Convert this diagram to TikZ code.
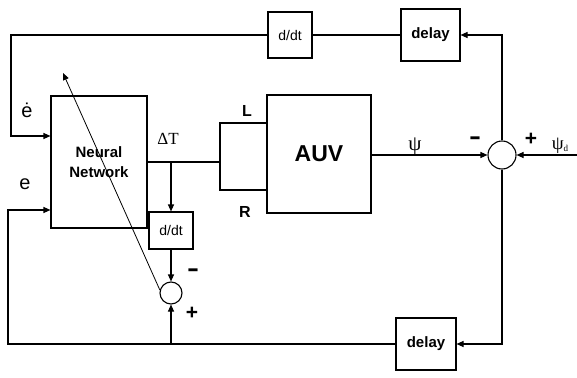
\documentclass[tikz,border=0pt]{standalone}
\usepackage{fontspec}
\setmainfont{Liberation Sans}
\newfontfamily\serifx{Liberation Serif}
\usetikzlibrary{arrows.meta}
\newcommand{\bigminus}{\scalebox{1.5}[1]{-}}
\begin{document}
\begin{tikzpicture}[x=1pt,y=-1pt,
  line width=1.1pt,
  blk/.style={draw,rectangle,inner sep=0pt},
  sumc/.style={draw,circle,inner sep=0pt},
  arr/.style={-{Triangle[length=7pt,width=6pt]}},
  sgn/.style={inner sep=0pt,font=\bfseries\fontsize{24}{26}\selectfont},
  lbl/.style={inner sep=0pt,font=\bfseries\fontsize{16}{18}\selectfont}]
\useasboundingbox (0,0) rectangle (577,377);
% blocks
\node[blk,minimum width=96pt,minimum height=132pt,align=center,
  font=\bfseries\fontsize{15}{20}\selectfont] (nn) at (99,162) {Neural\\Network};
\node[blk,minimum width=47pt,minimum height=67pt] (lr) at (243.5,156.5) {};
\node[blk,minimum width=104pt,minimum height=118pt,
  font=\bfseries\fontsize{23}{26}\selectfont] (auv) at (319,154) {AUV};
\node[blk,minimum width=44pt,minimum height=46pt,
  font=\fontsize{14}{16}\selectfont] (ddt1) at (290,35) {d/dt};
\node[blk,minimum width=59pt,minimum height=52pt,
  font=\bfseries\fontsize{15}{18}\selectfont] (del1) at (430.5,35) {delay};
\node[sumc,minimum size=28pt] (s1) at (502,155) {};
\node[blk,minimum width=44pt,minimum height=37pt,
  font=\fontsize{14}{16}\selectfont] (ddt2) at (171,230.5) {d/dt};
\node[sumc,minimum size=22pt] (s2) at (171,293) {};
\node[blk,minimum width=60pt,minimum height=52pt,
  font=\bfseries\fontsize{15}{18}\selectfont] (del2) at (426,344) {delay};
% coordinates
\coordinate (psid) at (577,155);
\coordinate (c1) at (11,136);
\coordinate (c2) at (8,210);
\coordinate (br) at (171,162);
\coordinate (jn) at (171,344);
\coordinate (tip) at (63,73);
% connectors
\draw[arr] (s1.west -| auv.east) -- (s1.west);
\draw[arr] (psid) -- (s1.east);
\draw[arr] (s1.north) |- (del1.east);
\draw (del1.west) -- (ddt1.east);
\draw[arr] (ddt1.west) -| (c1) -- (c1 -| nn.west);
\draw (br -| nn.east) -- (br -| lr.west);
\draw[arr] (br) -- (ddt2.north);
\draw[arr] (ddt2.south) -- (s2.north);
\draw[arr] (s1.south) |- (del2.east);
\draw[arr] (del2.west) -| (c2) -- (c2 -| nn.west);
\draw[arr] (jn) -- (s2.south);
\draw[arr,line width=0.8pt] (s2.165) -- (tip);
% labels
\node[inner sep=0pt,font=\fontsize{20}{22}\selectfont] (ed) at (27,110) {ė};
\node[inner sep=0pt,font=\fontsize{20}{22}\selectfont] (e) at (25,184) {e};
\node[inner sep=0pt,font=\serifx\fontsize{17}{20}\selectfont] (dT) at (168,139) {ΔT};
\node[lbl] (L) at (247,111) {L};
\node[lbl] (R) at (245,212) {R};
\node[inner sep=0pt,font=\serifx\fontsize{21}{22}\selectfont] (psi) at (415,146) {ψ};
\node[sgn] (m1) at (475,141) {\bigminus};
\node[inner sep=0pt,font=\bfseries\fontsize{21}{22}\selectfont] (p1) at (531,139) {+};
\node[inner sep=0pt,font=\serifx\fontsize{19}{20}\selectfont] (psd) at (560,146) {ψ\raisebox{-2pt}{\fontsize{9}{10}\selectfont d}};
\node[sgn] (m2) at (193,273) {\bigminus};
\node[inner sep=0pt,font=\bfseries\fontsize{21}{22}\selectfont] (p2) at (192,313) {+};
\end{tikzpicture}
\end{document}
